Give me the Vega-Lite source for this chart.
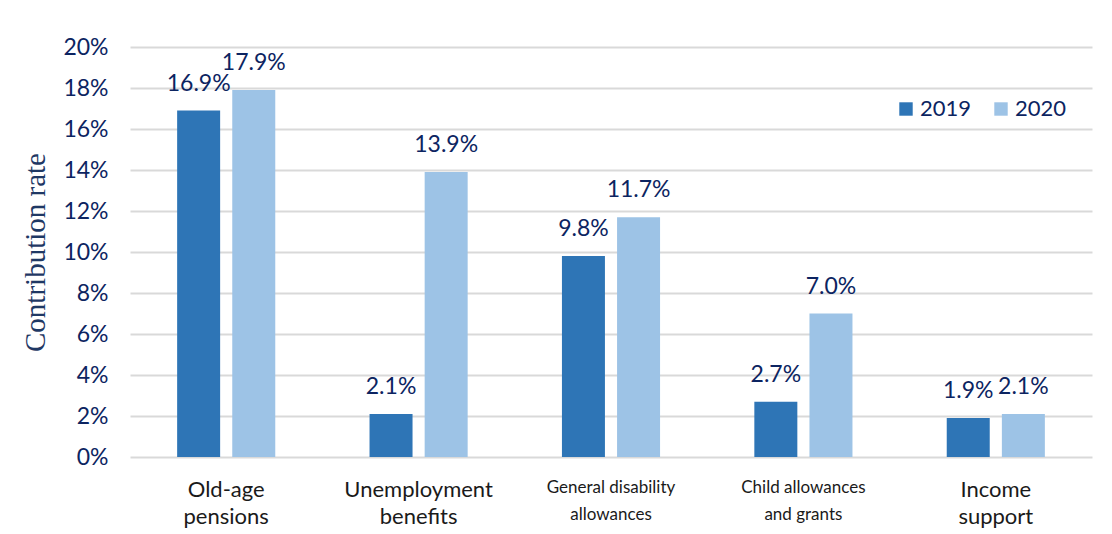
{
  "$schema": "https://vega.github.io/schema/vega-lite/v6.json",
  "width": 962,
  "height": 410,
  "autosize": {"type": "none"},
  "padding": {"left": 130, "top": 47, "right": 20, "bottom": 77},
  "background": "white",
  "data": {
    "values": [
      {"category": "Old-age pensions", "year": "2019", "rate": 0.169, "label": "16.9%"},
      {"category": "Old-age pensions", "year": "2020", "rate": 0.179, "label": "17.9%"},
      {"category": "Unemployment benefits", "year": "2019", "rate": 0.021, "label": "2.1%"},
      {"category": "Unemployment benefits", "year": "2020", "rate": 0.139, "label": "13.9%"},
      {"category": "General disability allowances", "year": "2019", "rate": 0.098, "label": "9.8%"},
      {"category": "General disability allowances", "year": "2020", "rate": 0.117, "label": "11.7%"},
      {"category": "Child allowances and grants", "year": "2019", "rate": 0.027, "label": "2.7%"},
      {"category": "Child allowances and grants", "year": "2020", "rate": 0.070, "label": "7.0%"},
      {"category": "Income support", "year": "2019", "rate": 0.019, "label": "1.9%"},
      {"category": "Income support", "year": "2020", "rate": 0.021, "label": "2.1%"}
    ]
  },
  "encoding": {
    "x": {
      "field": "category",
      "type": "nominal",
      "sort": null,
      "scale": {"paddingInner": 0.49, "paddingOuter": 0.245},
      "axis": {
        "title": null,
        "ticks": false,
        "domain": false,
        "grid": false,
        "labelAngle": 0,
        "labelPadding": 22,
        "labelBaseline": "top",
        "labelFont": "Lato",
        "labelColor": "#1a1a1a",
        "labelFontSize": {"condition": {"test": "indexof(datum.value, 'allowances') >= 0", "value": 17}, "value": 22},
        "labelLineHeight": 27,
        "labelExpr": "datum.label == 'General disability allowances' ? ['General disability', 'allowances'] : datum.label == 'Child allowances and grants' ? ['Child allowances', 'and grants'] : split(datum.label, ' ')"
      }
    },
    "xOffset": {"field": "year", "type": "nominal", "scale": {"paddingInner": 0.22}},
    "y": {
      "field": "rate",
      "type": "quantitative",
      "scale": {"domain": [0, 0.2]},
      "axis": {
        "title": "Contribution rate",
        "titleFont": "Liberation Serif",
        "titleFontWeight": "normal",
        "titleFontSize": 29,
        "titleColor": "#1f3864",
        "titlePadding": 12,
        "format": ".0%",
        "values": [0, 0.02, 0.04, 0.06, 0.08, 0.1, 0.12, 0.14, 0.16, 0.18, 0.2],
        "labelOverlap": false,
        "ticks": false,
        "domain": false,
        "labelPadding": 22,
        "labelFont": "Lato",
        "labelFontSize": 23,
        "labelColor": "#0c2461",
        "gridColor": "#d9d9d9",
        "gridWidth": 2
      }
    }
  },
  "layer": [
    {
      "mark": {"type": "bar"},
      "encoding": {
        "color": {
          "field": "year",
          "type": "nominal",
          "scale": {"domain": ["2019", "2020"], "range": ["#2e75b6", "#9dc3e6"]},
          "legend": {
            "title": null,
            "orient": "none",
            "direction": "horizontal",
            "legendX": 765,
            "legendY": 51,
            "symbolType": "square",
            "symbolSize": 180,
            "symbolStrokeWidth": 0,
            "symbolOpacity": 1,
            "labelFont": "Lato",
            "labelFontSize": 22,
            "labelColor": "#0c2461",
            "labelOffset": 3,
            "columnPadding": 18
          }
        }
      }
    },
    {
      "mark": {"type": "text", "baseline": "bottom", "dy": -15, "font": "Lato", "fontSize": 23, "color": "#0c2461"},
      "encoding": {"text": {"field": "label"}}
    }
  ],
  "config": {"view": {"stroke": null}}
}
